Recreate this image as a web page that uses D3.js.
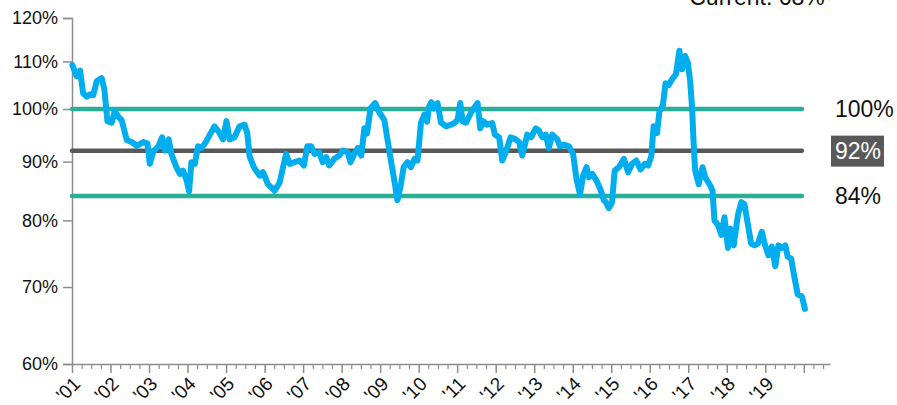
<!DOCTYPE html>
<html>
<head>
<meta charset="utf-8">
<script src="https://d3js.org/d3.v7.min.js"></script>
<style>
body { margin: 0; background: #fff; }
svg { display: block; font-family: "Liberation Sans", Arial, sans-serif; }
</style>
</head>
<body>
<svg width="897" height="405"></svg>
<script>

// ratio, decimal year -> percent
let dates = [
  2001.01, 2001.12, 2001.21, 2001.29, 2001.38, 2001.47, 2001.55, 2001.64, 2001.77, 2001.84, 2001.92,
  2002.03, 2002.11, 2002.20, 2002.29, 2002.42, 2002.55, 2002.68, 2002.85, 2002.96,
  2003.02, 2003.11, 2003.24, 2003.34, 2003.41, 2003.51, 2003.58, 2003.71, 2003.80, 2003.88, 2003.97,
  2004.04, 2004.10, 2004.19, 2004.27, 2004.36, 2004.45, 2004.58, 2004.70, 2004.83, 2004.92,
  2005.01, 2005.09, 2005.22, 2005.35, 2005.48, 2005.55, 2005.61, 2005.72, 2005.87, 2005.96,
  2006.09, 2006.26, 2006.39, 2006.48, 2006.56, 2006.65, 2006.78, 2006.91,
  2007.02, 2007.11, 2007.21, 2007.30, 2007.42, 2007.51, 2007.60, 2007.68, 2007.81, 2007.94,
  2008.03, 2008.16, 2008.23, 2008.33, 2008.42, 2008.51, 2008.59, 2008.66, 2008.75, 2008.87, 2008.98,
  2009.11, 2009.19, 2009.28, 2009.37, 2009.45, 2009.54, 2009.61, 2009.71, 2009.80, 2009.89, 2009.97,
  2010.06, 2010.15, 2010.22, 2010.27, 2010.33, 2010.40, 2010.49, 2010.58, 2010.71, 2010.84, 2010.92,
  2011.01, 2011.08, 2011.14, 2011.23, 2011.36, 2011.53, 2011.60, 2011.68, 2011.78, 2011.91, 2011.98,
  2012.09, 2012.17, 2012.26, 2012.39, 2012.52, 2012.61, 2012.69, 2012.82, 2012.92,
  2013.04, 2013.12, 2013.21, 2013.30, 2013.38, 2013.47, 2013.60, 2013.67, 2013.77, 2013.90,
  2014.01, 2014.10, 2014.19, 2014.27, 2014.36, 2014.42, 2014.51, 2014.62, 2014.72, 2014.81, 2014.86, 2014.94,
  2015.02, 2015.09, 2015.20, 2015.33, 2015.44, 2015.54, 2015.65, 2015.76, 2015.87, 2015.96,
  2016.04, 2016.10, 2016.19, 2016.25, 2016.34, 2016.41, 2016.49, 2016.60, 2016.68, 2016.77, 2016.84, 2016.92, 2016.99,
  2017.05, 2017.10, 2017.14, 2017.18, 2017.27, 2017.37, 2017.44, 2017.57, 2017.63, 2017.68, 2017.77, 2017.86, 2017.94,
  2018.03, 2018.09, 2018.18, 2018.29, 2018.38, 2018.46, 2018.55, 2018.63, 2018.72, 2018.81, 2018.91, 2018.98,
  2019.08, 2019.17, 2019.26, 2019.34, 2019.43, 2019.52, 2019.58, 2019.67, 2019.76, 2019.84, 2019.95, 2020.03
];
let ratio = [
  109.2, 106.8, 108.0, 103.2, 102.5, 103.0, 102.8, 105.7, 106.4, 104.0, 97.6,
  97.3, 99.6, 98.5, 97.8, 94.0, 93.6, 92.9, 93.6, 93.3,
  89.6, 91.8, 92.8, 94.5, 92.0, 94.1, 91.4, 89.0, 87.8, 88.4, 86.8,
  84.8, 89.9, 89.6, 92.8, 92.5, 93.3, 95.0, 96.6, 95.3, 94.1,
  97.6, 94.1, 94.5, 96.6, 96.9, 95.3, 91.0, 89.0, 87.5, 88.1,
  86.0, 84.9, 86.3, 89.0, 91.4, 89.6, 89.9, 90.2,
  89.3, 92.8, 92.8, 91.4, 91.7, 89.9, 90.8, 89.3, 90.5, 91.1,
  92.0, 91.7, 89.9, 91.4, 92.5, 91.1, 96.2, 95.2, 100.1, 101.2, 99.3,
  97.8, 94.1, 90.2, 86.6, 83.3, 86.0, 89.0, 89.9, 89.0, 90.5, 90.2,
  97.3, 98.9, 97.5, 100.5, 101.4, 100.1, 101.2, 97.3, 96.6, 96.9, 97.2,
  97.8, 101.2, 97.6, 97.3, 99.3, 101.2, 96.2, 97.6, 96.9, 97.2, 95.0,
  94.5, 90.2, 91.7, 94.5, 94.1, 93.6, 91.1, 95.0, 94.5,
  96.2, 95.8, 94.5, 95.0, 92.5, 95.0, 94.1, 92.8, 93.1, 92.8,
  91.4, 86.8, 84.3, 87.5, 89.0, 87.2, 87.8, 86.6, 85.1, 83.3, 83.0, 82.0,
  83.0, 88.4, 89.0, 90.5, 88.1, 89.6, 90.2, 88.6, 89.6, 89.3,
  91.0, 96.6, 95.3, 99.5, 100.7, 105.3, 104.9, 106.4, 107.2, 112.4, 108.3, 111.2, 109.7,
  105.7, 100.1, 93.3, 88.4, 86.0, 89.0, 87.2, 85.8, 84.9, 80.0, 79.3, 77.7, 80.5,
  75.7, 78.7, 76.1, 80.9, 83.0, 82.6, 79.3, 76.4, 76.1, 76.4, 78.2, 76.4,
  74.6, 75.9, 73.0, 76.1, 75.7, 76.1, 74.4, 74.1, 71.3, 69.0, 68.7, 67.0
];

let yTicks = [60, 70, 80, 90, 100, 110, 120];
let years = d3.range(2001, 2021);
let levels = [100, 92, 84];
let levelLabels = ["100%", "92%", "84%"];
let currentLabel = "Current: 68%";

let svg = d3.select("svg");

let x = d3.scaleLinear().domain([2001, 2020.68]).range([72, 830]);
let y = d3.scaleLog().domain([60, 120]).range([364, 18]);

let axisColor = "#8c8c8c";

// y axis
let yAxis = svg.append("g")
  .attr("transform", "translate(72,0)")
  .call(d3.axisLeft(y).tickValues(yTicks).tickSize(9).tickPadding(5)
    .tickFormat(d => d + "%"));
yAxis.select(".domain").attr("stroke", axisColor).attr("stroke-width", 1.5);
yAxis.selectAll(".tick line").attr("stroke", axisColor).attr("stroke-width", 1.5);
yAxis.selectAll(".tick text")
  .attr("fill", "#111").style("font-size", "18px");

// x axis, minor (quarters)
let quarters = d3.range(2001, 2020.7, 0.25).filter(d => d % 1 != 0);
let xMinor = svg.append("g")
  .attr("transform", "translate(0,364)")
  .call(d3.axisBottom(x).tickValues(quarters).tickSize(5).tickFormat(""));
xMinor.select(".domain").remove();
xMinor.selectAll(".tick line").attr("stroke", axisColor).attr("stroke-width", 1.2);

// x axis, major (years)
let xAxis = svg.append("g")
  .attr("transform", "translate(0,364)")
  .call(d3.axisBottom(x).tickValues(years).tickSize(9).tickSizeOuter(0)
    .tickFormat(d => d < 2020 ? "'" + String(d).slice(2) : ""));
xAxis.select(".domain").attr("stroke", axisColor).attr("stroke-width", 1.5);
xAxis.selectAll(".tick line").attr("stroke", axisColor).attr("stroke-width", 1.5);
xAxis.selectAll(".tick text")
  .attr("fill", "#111")
  .style("font-size", "19px")
  .attr("text-anchor", "end")
  .attr("dy", null)
  .attr("y", 0)
  .attr("transform", "translate(9,21) rotate(-45)");

// reference levels
let levelColors = ["#2aae98", "#595959", "#2aae98"];
svg.selectAll(".level")
  .data(levels)
  .enter().append("line")
  .attr("class", "level")
  .attr("x1", x(2001))
  .attr("x2", x(2019.95))
  .attr("y1", d => y(d))
  .attr("y2", d => y(d))
  .attr("stroke", (d, i) => levelColors[i])
  .attr("stroke-width", 4.5)
  .attr("stroke-linecap", "round");

// ratio line
let pts = dates.map((d, i) => [d, ratio[i]]);
svg.append("path")
  .datum(pts)
  .attr("fill", "none")
  .attr("stroke", "#00aeef")
  .attr("stroke-width", 6)
  .attr("stroke-linejoin", "round")
  .attr("stroke-linecap", "round")
  .attr("d", d3.line().x(d => x(d[0])).y(d => y(d[1])));

// labels on the right
levels.forEach(function(v, i) {
  let ly = y(v) + 8;
  if (i == 1) {
    svg.append("rect")
      .attr("x", 831).attr("y", y(v) - 15)
      .attr("width", 53).attr("height", 31)
      .attr("fill", "#595959");
  }
  svg.append("text")
    .attr("x", 835)
    .attr("y", ly)
    .attr("fill", i == 1 ? "#fff" : "#111")
    .style("font-size", "23px")
    .text(levelLabels[i]);
});

// sits at the top edge, partly cut off, as in the source picture
svg.append("text")
  .attr("x", 757)
  .attr("y", 5)
  .attr("text-anchor", "middle")
  .attr("fill", "#111")
  .style("font-size", "23px")
  .text(currentLabel);

</script>
</body>
</html>
